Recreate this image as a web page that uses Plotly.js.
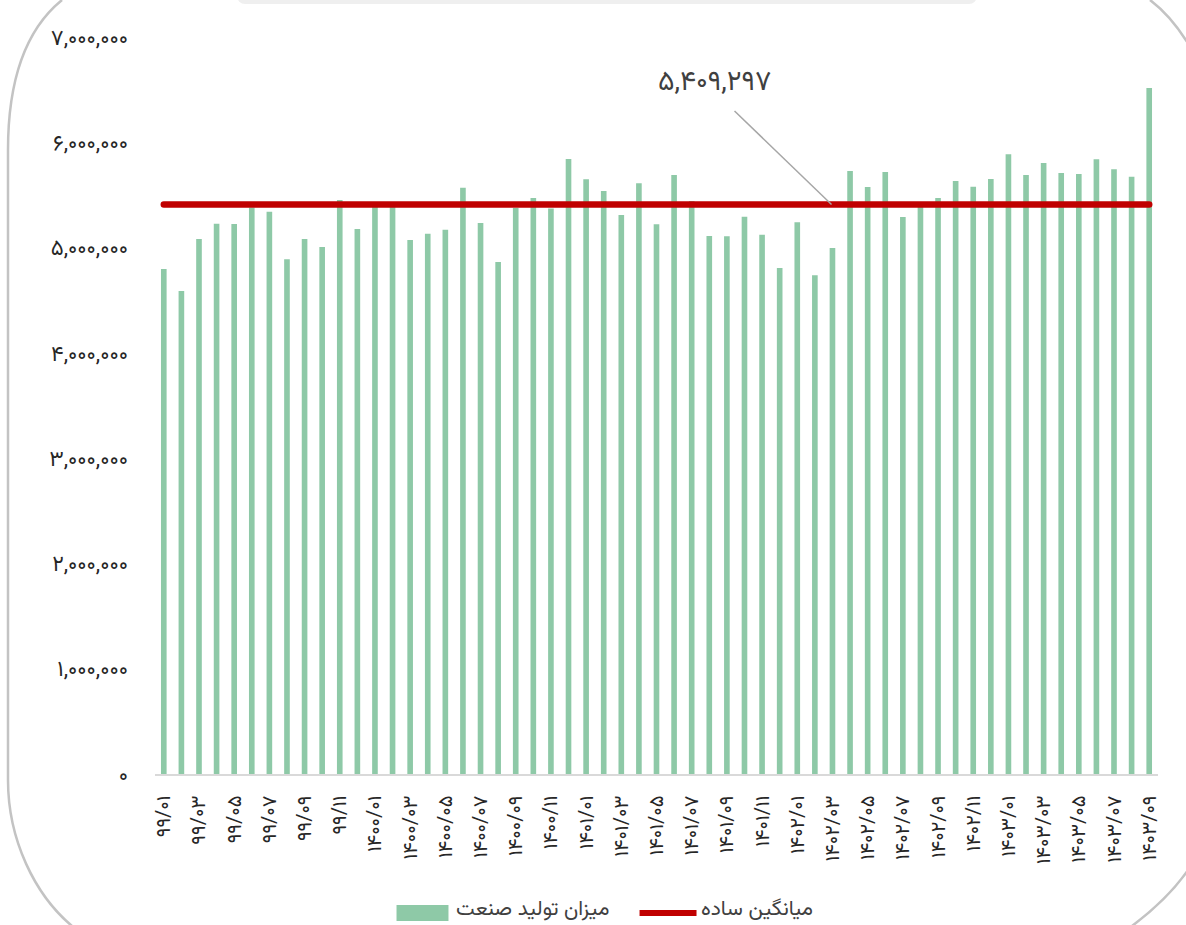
<!DOCTYPE html>
<html>
<head>
<meta charset="utf-8">
<script src="https://cdn.plot.ly/plotly-3.0.1.min.js"></script>
<style>
  html, body { margin:0; padding:0; background:#ffffff; }
  #wrap { position:relative; width:1186px; height:925px; overflow:hidden; }
  #deco { position:absolute; left:0; top:0; }
  #chart { position:absolute; left:0; top:0; width:1186px; height:925px; }
  .scatterlayer .js-line { stroke-linecap: round !important; }
</style>
</head>
<body>
<div id="wrap">
  <svg id="deco" width="1186" height="925">
    <rect x="237" y="-30" width="740" height="34" rx="8" fill="#efefef"/>
    <path d="M62,0 C25,30 8,80 8,150 L8,780 C8,840 35,895 72,926" fill="none" stroke="#c3c3c3" stroke-width="2.5"/>
    <path d="M1150,0 C1170,15 1185,35 1200,65" fill="none" stroke="#c3c3c3" stroke-width="2.5"/>
    <path d="M1200,850 C1185,880 1160,905 1132,926" fill="none" stroke="#c3c3c3" stroke-width="2.5"/>
  </svg>
  <div id="chart"></div>
</div>
<script>
// Months (Solar Hijri), 99/01 .. 1403/09
const months = [
  '۹۹/۰۱','۹۹/۰۲','۹۹/۰۳','۹۹/۰۴','۹۹/۰۵','۹۹/۰۶','۹۹/۰۷','۹۹/۰۸','۹۹/۰۹','۹۹/۱۰','۹۹/۱۱','۹۹/۱۲',
  '۱۴۰۰/۰۱','۱۴۰۰/۰۲','۱۴۰۰/۰۳','۱۴۰۰/۰۴','۱۴۰۰/۰۵','۱۴۰۰/۰۶','۱۴۰۰/۰۷','۱۴۰۰/۰۸','۱۴۰۰/۰۹','۱۴۰۰/۱۰','۱۴۰۰/۱۱','۱۴۰۰/۱۲',
  '۱۴۰۱/۰۱','۱۴۰۱/۰۲','۱۴۰۱/۰۳','۱۴۰۱/۰۴','۱۴۰۱/۰۵','۱۴۰۱/۰۶','۱۴۰۱/۰۷','۱۴۰۱/۰۸','۱۴۰۱/۰۹','۱۴۰۱/۱۰','۱۴۰۱/۱۱','۱۴۰۱/۱۲',
  '۱۴۰۲/۰۱','۱۴۰۲/۰۲','۱۴۰۲/۰۳','۱۴۰۲/۰۴','۱۴۰۲/۰۵','۱۴۰۲/۰۶','۱۴۰۲/۰۷','۱۴۰۲/۰۸','۱۴۰۲/۰۹','۱۴۰۲/۱۰','۱۴۰۲/۱۱','۱۴۰۲/۱۲',
  '۱۴۰۳/۰۱','۱۴۰۳/۰۲','۱۴۰۳/۰۳','۱۴۰۳/۰۴','۱۴۰۳/۰۵','۱۴۰۳/۰۶','۱۴۰۳/۰۷','۱۴۰۳/۰۸','۱۴۰۳/۰۹'
];

// Industrial production
const production = [
  4796000, 4587000, 5081000, 5227000, 5224000, 5380000, 5340000, 4888000, 5081000, 5005000, 5452000, 5176000,
  5433000, 5420000, 5072000, 5132000, 5170000, 5568000, 5233000, 4863000, 5375000, 5471000, 5372000, 5841000,
  5648000, 5537000, 5309000, 5610000, 5221000, 5689000, 5442000, 5110000, 5107000, 5293000, 5122000, 4806000,
  5240000, 4736000, 4996000, 5727000, 5575000, 5718000, 5290000, 5433000, 5471000, 5632000, 5578000, 5651000,
  5886000, 5689000, 5803000, 5708000, 5699000, 5838000, 5743000, 5673000, 6515000
];

const averageValue = 5409297;
const averageLabel = '۵,۴۰۹,۲۹۷';

const xTickLabels = months.filter((m, i) => i % 2 === 0);

const yTickVals = [0, 1000000, 2000000, 3000000, 4000000, 5000000, 6000000, 7000000];
const yTickText = ['۰','۱,۰۰۰,۰۰۰','۲,۰۰۰,۰۰۰','۳,۰۰۰,۰۰۰','۴,۰۰۰,۰۰۰','۵,۰۰۰,۰۰۰','۶,۰۰۰,۰۰۰','۷,۰۰۰,۰۰۰'];

const seriesNames = ['میزان تولید صنعت', 'میانگین ساده'];

const FONT = 'Vazirmatn, "DejaVu Sans", sans-serif';
const barColor = '#8ec9a7';
const avgColor = '#c00000';

const traces = [
  {
    type: 'bar', name: seriesNames[0], x: months, y: production,
    marker: { color: barColor }, hoverinfo: 'x+y'
  },
  {
    type: 'scatter', mode: 'lines', name: seriesNames[1],
    x: [months[0], months[months.length - 1]], y: [averageValue, averageValue],
    line: { color: avgColor, width: 6.5 }
  }
];

const legendY = -0.1832;

const layout = {
  width: 1186, height: 925,
  margin: { l: 155, r: 28, t: 37, b: 151 },
  paper_bgcolor: 'rgba(0,0,0,0)', plot_bgcolor: 'rgba(0,0,0,0)',
  showlegend: false,
  bargap: 0.68,
  font: { family: FONT, color: '#262626', size: 15 },
  xaxis: {
    type: 'category', range: [-0.5, months.length - 0.5],
    tickmode: 'array', tickvals: xTickLabels, ticktext: xTickLabels,
    tickangle: -90, ticks: '', showgrid: false, zeroline: false,
    showline: true, linecolor: '#d9d9d9', linewidth: 1.5,
    tickfont: { family: FONT, size: 20, color: '#262626' },
    ticklabelstandoff: 12
  },
  yaxis: {
    range: [0, 7000000], tickmode: 'array', tickvals: yTickVals, ticktext: yTickText,
    showgrid: false, zeroline: false, showline: false, ticks: '',
    tickfont: { family: FONT, size: 22, color: '#262626' },
    ticklabelstandoff: 26
  },
  shapes: [
    { type: 'line', xref: 'paper', yref: 'paper', x0: 0.5778, y0: 0.8996, x1: 0.6745, y1: averageValue / 7000000,
      line: { color: '#a6a6a6', width: 1.5 } },
    { type: 'rect', xref: 'paper', yref: 'paper', x0: 0.2408, x1: 0.2926, y0: -0.1995, y1: -0.1777,
      fillcolor: barColor, line: { width: 0 } },
    { type: 'line', xref: 'paper', yref: 'paper', x0: 0.4831, x1: 0.5399, y0: -0.1886, y1: -0.1886,
      line: { color: avgColor, width: 6 } }
  ],
  annotations: [
    { xref: 'paper', yref: 'paper', x: 0.558, y: 0.9376, text: averageLabel, showarrow: false,
      xanchor: 'center', yanchor: 'middle', font: { family: FONT, size: 28, color: '#404040' } },
    { xref: 'paper', yref: 'paper', x: 0.2986, y: legendY, text: seriesNames[0], showarrow: false,
      xanchor: 'left', yanchor: 'middle', width: 175, align: 'left',
      font: { family: FONT, size: 21, color: '#404040' } },
    { xref: 'paper', yref: 'paper', x: 0.5428, y: legendY, text: seriesNames[1], showarrow: false,
      xanchor: 'left', yanchor: 'middle', width: 140, align: 'left',
      font: { family: FONT, size: 21, color: '#404040' } }
  ]
};

Plotly.newPlot('chart', traces, layout, { displayModeBar: false, staticPlot: true });
</script>
</body>
</html>
